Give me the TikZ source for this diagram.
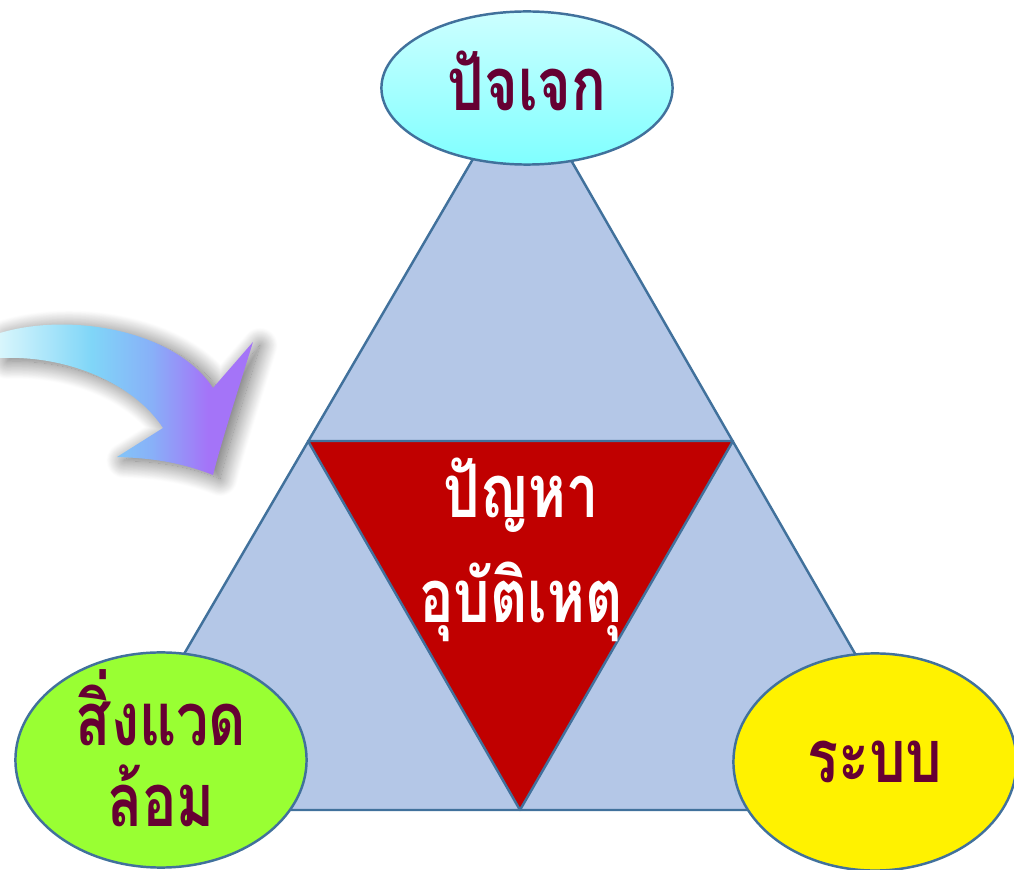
\documentclass[tikz,border=0pt]{standalone}
\usepackage{fontspec}
\newfontfamily\thaifont[Script=Thai,FakeStretch=0.78]{Loma}
\usetikzlibrary{shapes.geometric,shadows.blur}

\definecolor{edgeblue}{HTML}{41719C}
\definecolor{paleblue}{HTML}{B4C7E7}
\definecolor{deepred}{HTML}{C00000}
\definecolor{wine}{HTML}{660033}
\definecolor{limegreen}{HTML}{99FF33}
\definecolor{arrowA}{HTML}{D8F6FC}
\definecolor{arrowB}{HTML}{80D6F8}
\definecolor{arrowM}{HTML}{88B0F8}
\definecolor{arrowC}{HTML}{A474F8}
\pgfdeclarehorizontalshading{arrowshade}{100bp}{color(0bp)=(arrowA); color(25bp)=(arrowA);
  color(43bp)=(arrowB); color(55bp)=(arrowM); color(66bp)=(arrowC); color(100bp)=(arrowC)}

\begin{document}
\begin{tikzpicture}[x=0.01cm,y=-0.01cm,
  bubble/.style={draw=edgeblue,line width=0.7pt,shape=ellipse,inner sep=0pt},
  facet/.style={draw=edgeblue,line width=0.7pt,line join=round},
  thaitext/.style={font=\thaifont\bfseries\fontsize{21}{23}\selectfont,text=wine,align=center}]
\useasboundingbox (0,0) rectangle (1014,870);

% outer and inner triangles
\path[facet,fill=paleblue] (522,75) -- (945,810) -- (93,810) -- cycle;
\path[facet,fill=deepred] (308,441) -- (733,441) -- (520,810) -- cycle;

% curved arrow
\path[shading=arrowshade,
  blur shadow={shadow xshift=2pt,shadow yshift=-1pt,shadow blur radius=5pt,
    shadow blur steps=24,shadow opacity=60}]
  (0,333) .. controls (70,312) and (175,330) .. (213,388)
  -- (253,342)
  .. controls (235,400) and (222,440) .. (213,475)
  .. controls (180,462) and (150,458) .. (117,457)
  -- (163,428)
  .. controls (135,385) and (70,355) .. (0,358) -- cycle;

% three corners
\path (527,88) node[bubble,top color=cyan!20,bottom color=cyan!50,
  minimum width=2.91cm,minimum height=1.53cm] (self) {};
\path (161,760) node[bubble,fill=limegreen,
  minimum width=2.91cm,minimum height=2.15cm] (env) {};
\path (875,762) node[bubble,fill=yellow,
  minimum width=2.83cm,minimum height=2.17cm] (sys) {};
\path (527,81) node[thaitext] (self-text) {ปัจเจก};
\path (161,748) node[thaitext] (env-text) {สิ่งแวด\\ล้อม};
\path (sys) node[thaitext] (sys-text) {ระบบ};

% centre
\path (521,550) node[thaitext,text=white,
  font=\thaifont\bfseries\fontsize{21}{30}\selectfont] (problem) {ปัญหา\\อุบัติเหตุ};
\end{tikzpicture}
\end{document}
